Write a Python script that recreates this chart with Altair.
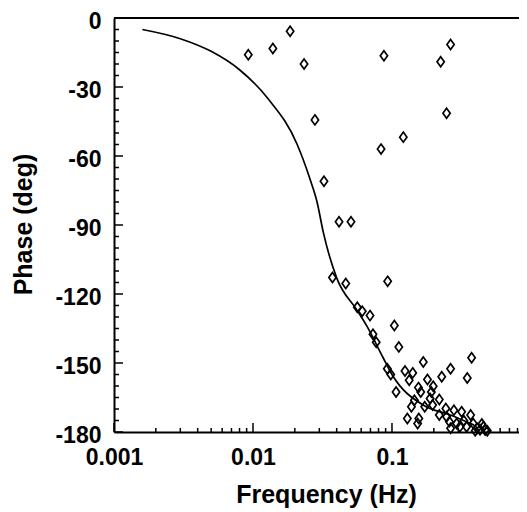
import altair as alt
import pandas as pd

# ---- data ----
line_freq = [0.0016, 0.003, 0.005, 0.008, 0.0128, 0.0208, 0.0257, 0.0289, 0.032,
             0.040, 0.056, 0.066, 0.086, 0.1, 0.17, 0.26, 0.39]
line_phase = [-5, -9, -14.5, -22.5, -35, -55, -70, -80, -93,
              -113, -127, -134, -147.5, -155, -168.5, -172.5, -177]

pt_freq = [0.00925, 0.0139, 0.0185, 0.0233, 0.0279, 0.0324, 0.0875, 0.0834, 0.1206, 0.247,
           0.224, 0.264, 0.0416, 0.0507, 0.0373, 0.0465, 0.0931, 0.0563, 0.0611, 0.0695,
           0.104, 0.073, 0.077, 0.112, 0.0925, 0.098, 0.168, 0.374, 0.264, 0.124,
           0.141, 0.133, 0.228, 0.348, 0.180, 0.107, 0.155, 0.161, 0.198, 0.192,
           0.188, 0.219, 0.145, 0.138, 0.172, 0.196, 0.244, 0.279, 0.317, 0.368,
           0.129, 0.156, 0.153, 0.219, 0.247, 0.259, 0.264, 0.292, 0.308, 0.329,
           0.344, 0.384, 0.410, 0.443, 0.455, 0.468, 0.485, 0.397, 0.43]
pt_phase = [-16, -13.3, -5.8, -20, -44.3, -71, -16.4, -57, -51.8, -41.4,
            -19, -11.5, -88.6, -88.6, -112.8, -115.4, -114.5, -125.8, -127.5, -129.4,
            -133.7, -137.5, -141, -143, -152.5, -155, -149.6, -147.7, -152.5, -153.5,
            -154.3, -157.5, -156, -156.5, -157.2, -162.6, -160.7, -162.6, -160.1, -162.6,
            -165.4, -165.9, -166.2, -169, -169, -168.3, -169.8, -170.5, -171.2, -172.6,
            -174.1, -174.1, -176.3, -172.6, -173.4, -175.5, -178.4, -176.3, -177.7, -175.1,
            -177.7, -176.3, -178.4, -176.5, -177.7, -179.1, -179.5, -179.5, -179]

x_labels = [0.001, 0.01, 0.1]
x_minor = [m * d for d in (0.001, 0.01, 0.1) for m in range(2, 10) if m * d <= 0.82]
y_labels = [0, -30, -60, -90, -120, -150, -180]
y_minor = [v for v in range(-175, 0, 5) if v % 30 != 0]

# ---- chart ----
W, H = 405, 414
FONT = "Liberation Sans"
xscale = alt.Scale(type="log", domain=[0.001, 0.82], nice=False)
yscale = alt.Scale(domain=[-180, 0], nice=False, zero=False)

pts = pd.DataFrame({"f": pt_freq, "p": pt_phase})
ln = pd.DataFrame({"f": line_freq, "p": line_phase})

xaxis = alt.Axis(values=x_labels, format="~g", ticks=False, grid=False,
                 domainWidth=2, domainColor="black", labelFlush=False, labelOverlap=False,
                 labelFontSize=23, labelFont=FONT, labelFontWeight="bold",
                 labelColor="black", labelPadding=14,
                 title="Frequency (Hz)", titleFontSize=25, titleFont=FONT,
                 titleFontWeight="bold", titleColor="black",
                 titleX=212, titleY=62, titleBaseline="middle", titleAlign="center")
yaxis = alt.Axis(values=y_labels, labelExpr="'' + datum.value", ticks=False, grid=False,
                 domainWidth=2, domainColor="black", labelFlush=False, labelOverlap=False,
                 labelFontSize=23, labelFont=FONT, labelFontWeight="bold",
                 labelColor="black", labelPadding=13, labelOffset=3,
                 title="Phase (deg)", titleFontSize=25, titleFont=FONT,
                 titleFontWeight="bold", titleColor="black",
                 titleX=-91, titleY=206, titleBaseline="middle", titleAlign="center",
                 titleAngle=270)

X = lambda fld: alt.X(fld, scale=xscale, axis=xaxis)
Y = lambda fld: alt.Y(fld, scale=yscale, axis=yaxis)

line = alt.Chart(ln).mark_line(color="black", strokeWidth=1.7, interpolate="monotone").encode(
    x=X("f:Q"), y=Y("p:Q"),
)

diamond = "M0,-1.2L0.87,0L0,1.2L-0.87,0Z"
points = alt.Chart(pts).mark_point(shape=diamond, size=70, filled=False,
                                   color="black", strokeWidth=1.7, opacity=1).encode(
    x=X("f:Q"), y=Y("p:Q"),
)

y_major_t = alt.Chart(pd.DataFrame({"p": y_labels})).mark_rule(color="black", strokeWidth=1.5).encode(
    y=Y("p:Q"), x=alt.value(0), x2=alt.value(9))
y_minor_t = alt.Chart(pd.DataFrame({"p": y_minor})).mark_rule(color="black", strokeWidth=1.5).encode(
    y=Y("p:Q"), x=alt.value(0), x2=alt.value(5))
x_major_t = alt.Chart(pd.DataFrame({"f": x_labels})).mark_rule(color="black", strokeWidth=1.5).encode(
    x=X("f:Q"), y=alt.value(H), y2=alt.value(H - 9))
x_minor_t = alt.Chart(pd.DataFrame({"f": x_minor})).mark_rule(color="black", strokeWidth=1.5).encode(
    x=X("f:Q"), y=alt.value(H), y2=alt.value(H - 4))
top = alt.Chart(pd.DataFrame({"p": [0]})).mark_rule(color="black", strokeWidth=2).encode(
    y=Y("p:Q"), x=alt.value(0), x2=alt.value(W))

chart = alt.layer(line, points, y_major_t, y_minor_t, x_major_t, x_minor_t, top).properties(
    width=W, height=H,
    autosize=alt.AutoSizeParams(type="none"),
    padding={"left": 106, "top": 10, "right": 0, "bottom": 80},
).configure_view(stroke=None)

chart.save("out.html", embed_options={"renderer": "svg", "actions": False})
